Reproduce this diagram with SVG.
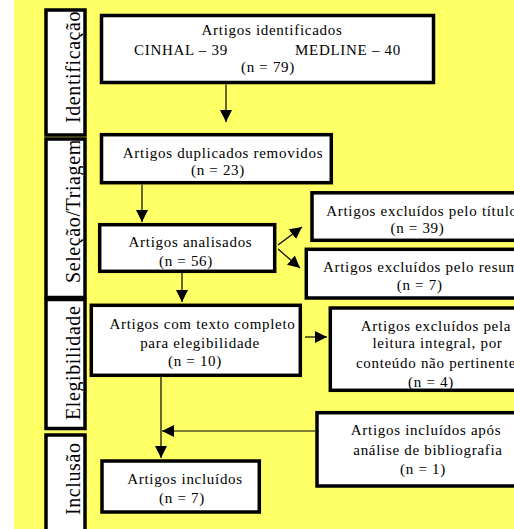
<svg xmlns="http://www.w3.org/2000/svg" width="514" height="529" viewBox="0 0 514 529">
<style>
.box{fill:#fff;stroke:#000;stroke-width:3.5}
.side{fill:#fff;stroke:#000;stroke-width:3.5}
.t{font-size:15px;letter-spacing:0.7px;fill:#000;text-anchor:middle}
.s{font-size:20px;letter-spacing:0.6px;fill:#000}
.ln{stroke:#000;stroke-width:1.2;fill:none}
</style>
<defs>
<marker id="ah" markerUnits="userSpaceOnUse" markerWidth="12" markerHeight="12" refX="12" refY="6" orient="auto">
<path d="M0,0 L12,6 L0,12 z" fill="#000"/>
</marker>
<clipPath id="c1"><rect x="48" y="12" width="35" height="121"/></clipPath>
<clipPath id="c2"><rect x="48" y="141" width="35" height="155"/></clipPath>
<clipPath id="c3"><rect x="48" y="301" width="35" height="126"/></clipPath>
<clipPath id="c4"><rect x="48" y="437" width="35" height="100"/></clipPath>
</defs>
<rect x="14" y="0" width="500" height="529" fill="#FFFF66"/>
<g font-family="'Liberation Serif', 'DejaVu Serif', serif">
<g id="side-identificacao">
<rect class="side" x="46" y="10" width="39" height="125"/>
<g clip-path="url(#c1)"><text class="s" x="80" y="123" transform="rotate(-90 80 123)">Identificação</text></g>
</g>
<g id="side-selecao">
<rect class="side" x="46" y="139" width="39" height="158.5"/>
<g clip-path="url(#c2)"><text class="s" x="80" y="283" transform="rotate(-90 80 283)">Seleção/Triagem</text></g>
</g>
<g id="side-elegibilidade">
<rect class="side" x="46" y="299.5" width="39" height="129"/>
<g clip-path="url(#c3)"><text class="s" x="80" y="420" transform="rotate(-90 80 420)">Elegibilidade</text></g>
</g>
<g id="side-inclusao">
<rect class="side" x="46" y="435" width="39" height="110"/>
<g clip-path="url(#c4)"><text class="s" x="80" y="515" transform="rotate(-90 80 515)">Inclusão</text></g>
</g>

<g id="connectors">
<line class="ln" x1="226" y1="84.5" x2="226" y2="122" marker-end="url(#ah)"/>
<line class="ln" x1="142" y1="184.5" x2="142" y2="222" marker-end="url(#ah)"/>
<line class="ln" x1="182" y1="273" x2="182" y2="302" marker-end="url(#ah)"/>
<line class="ln" x1="278" y1="245" x2="302" y2="227" marker-end="url(#ah)"/>
<line class="ln" x1="278" y1="249" x2="300" y2="268" marker-end="url(#ah)"/>
<line class="ln" x1="305" y1="337" x2="327" y2="337" marker-end="url(#ah)"/>
<line class="ln" x1="161" y1="377" x2="161" y2="458" marker-end="url(#ah)"/>
<line class="ln" x1="315" y1="431" x2="162" y2="431" marker-end="url(#ah)"/>
</g>

<g id="n-identificados">
<rect class="box" x="101.5" y="15.5" width="332" height="67"/>
<text class="t" x="272" y="35">Artigos identificados</text>
<text class="t" x="181" y="55">CINHAL – 39</text>
<text class="t" x="348" y="55">MEDLINE – 40</text>
<text class="t" x="268" y="72">(n = 79)</text>
</g>
<g id="n-duplicados">
<rect class="box" x="101.5" y="134.7" width="229.8" height="48"/>
<text class="t" x="223" y="158">Artigos duplicados removidos</text>
<text class="t" x="218" y="175">(n = 23)</text>
</g>
<g id="n-analisados">
<rect class="box" x="99.7" y="224.7" width="175" height="46.6"/>
<text class="t" x="190.5" y="247">Artigos analisados</text>
<text class="t" x="186" y="266">(n = 56)</text>
</g>
<g id="n-texto-completo">
<rect class="box" x="91.3" y="305.3" width="209" height="70"/>
<text class="t" x="202.5" y="329">Artigos com texto completo</text>
<text class="t" x="200" y="347.5">para elegibilidade</text>
<text class="t" x="195" y="366">(n = 10)</text>
</g>
<g id="n-excl-titulo">
<rect class="box" x="312" y="192.8" width="220" height="47.5"/>
<text class="t" x="422" y="215.5">Artigos excluídos pelo título</text>
<text class="t" x="417.5" y="233">(n = 39)</text>
</g>
<g id="n-excl-resumo">
<rect class="box" x="306.3" y="249.3" width="230" height="48.7"/>
<text class="t" x="425" y="272">Artigos excluídos pelo resumo</text>
<text class="t" x="419.7" y="290">(n = 7)</text>
</g>
<g id="n-excl-leitura">
<rect class="box" x="330.3" y="308" width="210" height="82.3"/>
<text class="t" x="436" y="330.5">Artigos excluídos pela</text>
<text class="t" x="437.5" y="348">leitura integral, por</text>
<text class="t" x="436" y="368">conteúdo não pertinente</text>
<text class="t" x="431" y="386.5">(n = 4)</text>
</g>
<g id="n-incl-bibliografia">
<rect class="box" x="317" y="412.7" width="215" height="73.3"/>
<text class="t" x="426" y="435">Artigos incluídos após</text>
<text class="t" x="428" y="455">análise de bibliografia</text>
<text class="t" x="423" y="474">(n = 1)</text>
</g>
<g id="n-incluidos">
<rect class="box" x="102" y="461" width="157.3" height="51"/>
<text class="t" x="185" y="484">Artigos incluídos</text>
<text class="t" x="182" y="502.5">(n = 7)</text>
</g>
</g>
</svg>
